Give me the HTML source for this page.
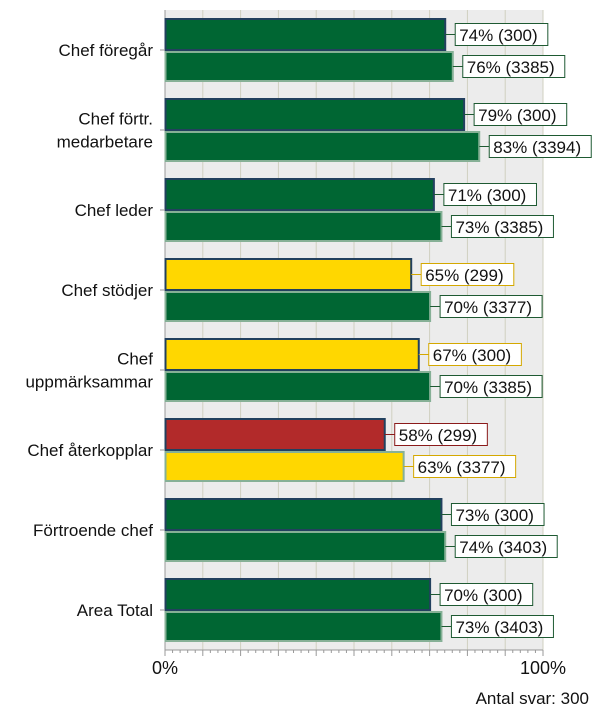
<!DOCTYPE html>
<html><head><meta charset="utf-8"><style>
body{margin:0;background:#fff;font-family:"Liberation Sans",sans-serif;}
</style></head><body>
<svg width="600" height="715" id="c" xmlns="http://www.w3.org/2000/svg" font-family="Liberation Sans, sans-serif"></svg>
<script>
const categories=[["Chef föregår"],["Chef förtr.","medarbetare"],["Chef leder"],["Chef stödjer"],["Chef","uppmärksammar"],["Chef återkopplar"],["Förtroende chef"],["Area Total"]];
const seriesA=[74,79,71,65,67,58,73,70];
const countsA=[300,300,300,299,300,299,300,300];
const seriesB=[76,83,73,70,70,63,74,73];
const countsB=[3385,3394,3385,3377,3385,3377,3403,3403];
const tickLabels=["0%","100%"];
const X0=165,X1=543,TOP=10,GH=80;
const x=v=>X0+(X1-X0)*v/100;
const svg=document.getElementById('c');
const NS="http://www.w3.org/2000/svg";
function mk(t,a,p){const e=document.createElementNS(NS,t);for(const k in a)e.setAttribute(k,a[k]);(p||svg).appendChild(e);return e;}
function fill(v){return v>=70?"#006633":v>=60?"#ffd700":"#b22a2a";}
function lbBorder(v){return v>=70?"#1e5a32":v>=60?"#d4a800":"#8b1a1a";}
const bg=mk('rect',{x:X0,y:TOP,width:X1-X0,height:GH*8,fill:"#ececec"});


for(let i=1;i<=10;i++){const g=mk('line',{x1:x(i*10),x2:x(i*10),y1:TOP,y2:TOP+GH*8,stroke:"#d0d0c0","stroke-width":1});

}
const yb=TOP+GH*8;
mk('line',{x1:X0,x2:X1,y1:yb,y2:yb,stroke:"#999"});
mk('line',{x1:X0,x2:X0,y1:TOP,y2:yb,stroke:"#999"});
for(let i=0;i<=50;i++){const v=i*2;const l=mk('line',{x1:x(v),x2:x(v),y1:yb,y2:yb+(v%10==0?6:3),stroke:"#999"});

}
[[0,tickLabels[0]],[100,tickLabels[1]]].forEach(([v,s])=>{const t=mk('text',{x:x(v),y:674,"font-size":18,"text-anchor":"middle",fill:"#111"});t.textContent=s;

});
const foot=mk('text',{x:589,y:704,"font-size":17,"text-anchor":"end",fill:"#111"});foot.textContent="Antal svar: 300";


function bar(v,n,y,h,border,nm){
 const r=mk('rect',{x:X0+0.5,y:y,width:x(v)-X0,height:h,fill:fill(v),stroke:border,"stroke-width":2});
 
 
 const ex=x(v)+0.5,cy=y+h/2;
 mk('line',{x1:ex,x2:ex+10,y1:cy,y2:cy,stroke:lbBorder(v)});
 const s=v+"% ("+n+")";
 const w=s.length*9.4+8;
 const b=mk('rect',{x:ex+10,y:cy-11,width:w,height:22,fill:"#fff",stroke:lbBorder(v)});
 
 
 const t=mk('text',{x:ex+14,y:cy+6.5,"font-size":17,fill:"#111"});t.textContent=s;
 
 
}
categories.forEach((c,i)=>{
 const gy=TOP+GH*i;
 bar(seriesA[i],countsA[i],gy+9,31,"#22405e","bar-unit-"+i);
 bar(seriesB[i],countsB[i],gy+42,29,"#86b096","bar-comparison-"+i);
 const cy=gy+40;
 mk('line',{x1:X0-5,x2:X0,y1:cy,y2:cy,stroke:"#999"});
 c.forEach((ln,j)=>{const t=mk('text',{x:153,y:cy+6+(j-(c.length-1)/2)*23,"font-size":17,"text-anchor":"end",fill:"#111"});t.textContent=ln;
 
 });
});
</script>
</body></html>
